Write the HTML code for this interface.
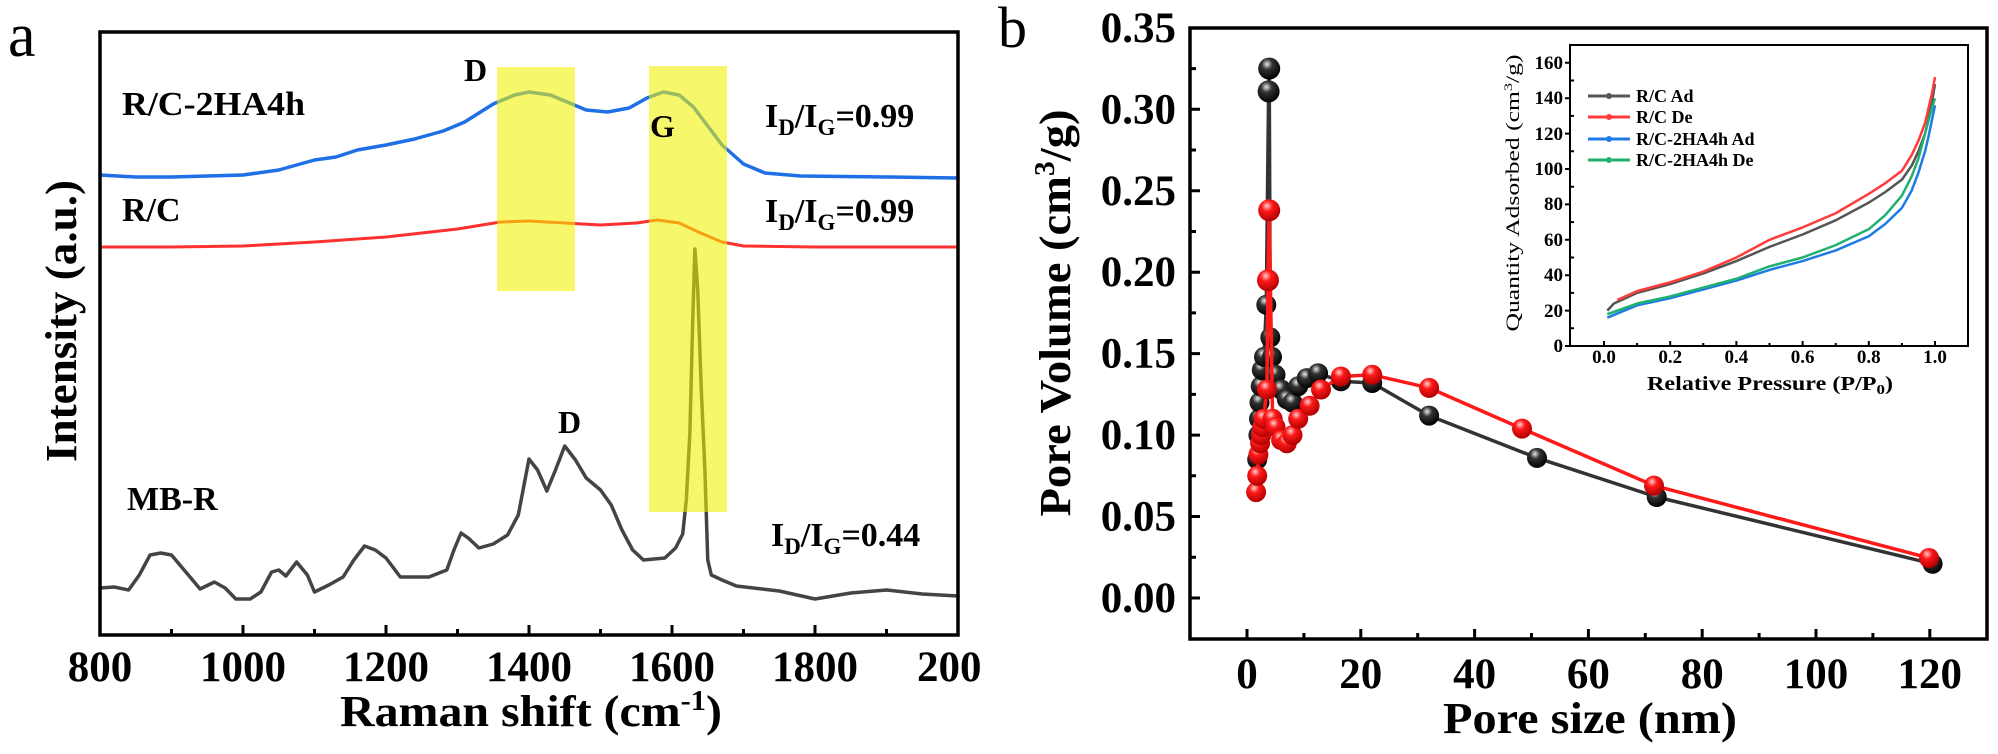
<!DOCTYPE html>
<html><head><meta charset="utf-8"><style>
html,body{margin:0;padding:0;background:#fff;}
svg{display:block;}
text{font-family:"Liberation Serif",serif;font-weight:bold;fill:#000;}
</style></head><body>
<svg width="1998" height="754" viewBox="0 0 1998 754" xmlns="http://www.w3.org/2000/svg">
<defs>
<radialGradient id="gk" cx="0.4" cy="0.3" r="0.7"><stop offset="0" stop-color="#e8e8e8"/><stop offset="0.35" stop-color="#333"/><stop offset="1" stop-color="#000"/></radialGradient>
<radialGradient id="gr" cx="0.4" cy="0.3" r="0.7"><stop offset="0" stop-color="#ffd0d0"/><stop offset="0.35" stop-color="#ff1a1a"/><stop offset="1" stop-color="#b00000"/></radialGradient>
</defs>
<rect width="1998" height="754" fill="#fff"/>

<!-- ============ PANEL A ============ -->
<text x="8" y="56" style="font-weight:normal" font-size="62">a</text>
<g transform="translate(100,0) scale(0.715,1) translate(-800,0)" fill="none" stroke-linejoin="round" stroke-linecap="round">
<polyline vector-effect="non-scaling-stroke" stroke="#1f6fe6" stroke-width="3.5" points="800,175 850,177 900,177 950,176 1000,175 1050,170 1080,164 1100,160 1130,157 1160,150 1200,145 1240,139 1280,131 1310,122 1350,104 1380,95 1400,92 1430,95 1460,104 1480,110 1510,112 1540,108 1565,98 1588,92 1610,95 1630,107 1650,126 1670,145 1700,164 1730,173 1780,176 1900,177 2000,178"/>
<polyline vector-effect="non-scaling-stroke" stroke="#ff3030" stroke-width="3" points="800,247 900,247 1000,246 1100,242 1200,237 1300,229 1360,222 1400,221 1450,223 1500,225 1550,223 1580,220 1610,223 1640,233 1670,242 1700,246 1800,247 2000,247"/>
<polyline vector-effect="non-scaling-stroke" stroke="#444" stroke-width="3.5" points="800,588 820,587 840,590 855,575 870,555 885,553 900,555 920,572 940,589 960,582 975,588 990,599 1010,599 1025,592 1040,572 1050,570 1060,576 1075,562 1090,575 1100,592 1120,585 1140,577 1155,560 1170,546 1185,550 1200,558 1220,577 1260,577 1285,570 1295,550 1305,533 1315,538 1330,548 1350,544 1370,535 1385,515 1400,459 1412,470 1425,491 1437,470 1450,446 1465,460 1480,478 1500,490 1515,505 1530,530 1545,550 1560,560 1590,558 1605,548 1615,534 1620,500 1625,433 1629,320 1632,249 1636,290 1641,390 1646,470 1650,560 1655,575 1670,580 1690,586 1750,591 1800,599 1850,593 1900,590 1950,594 2000,596"/>
</g>
<rect x="497" y="67" width="78" height="224" fill="#f2f200" opacity="0.58"/>
<rect x="649" y="66" width="78" height="446" fill="#f2f200" opacity="0.58"/>
<!-- frame a -->
<rect x="100" y="32" width="858" height="603" fill="none" stroke="#000" stroke-width="3.5"/>
<g stroke="#000" stroke-width="3">
<path d="M243,635v-10M386,635v-10M529,635v-10M672,635v-10M815,635v-10"/>
<path d="M171.5,635v-6M314.5,635v-6M457.5,635v-6M600.5,635v-6M743.5,635v-6M886.5,635v-6"/>
</g>
<g font-size="43" text-anchor="middle">
<text x="100" y="681">800</text><text x="243" y="681">1000</text><text x="386" y="681">1200</text>
<text x="529" y="681">1400</text><text x="672" y="681">1600</text><text x="815" y="681">1800</text>
</g>
<text x="917" y="681" font-size="43">200</text>
<text x="340" y="726" font-size="44" textLength="382" lengthAdjust="spacingAndGlyphs">Raman shift (cm<tspan font-size="28" dy="-16">-1</tspan><tspan dy="16">)</tspan></text>
<text transform="translate(76,321) rotate(-90)" text-anchor="middle" font-size="44" textLength="282" lengthAdjust="spacingAndGlyphs">Intensity (a.u.)</text>
<text x="122" y="115" font-size="34" textLength="183" lengthAdjust="spacingAndGlyphs">R/C-2HA4h</text>
<text x="122" y="221" font-size="34">R/C</text>
<text x="127" y="510" font-size="34">MB-R</text>
<text x="464" y="81" font-size="32">D</text>
<text x="650" y="137" font-size="32">G</text>
<text x="558" y="433" font-size="32">D</text>
<g font-size="34">
<text x="765" y="127">I<tspan font-size="23" dy="8">D</tspan><tspan dy="-8">/I</tspan><tspan font-size="23" dy="8">G</tspan><tspan dy="-8">=0.99</tspan></text>
<text x="765" y="222">I<tspan font-size="23" dy="8">D</tspan><tspan dy="-8">/I</tspan><tspan font-size="23" dy="8">G</tspan><tspan dy="-8">=0.99</tspan></text>
<text x="771" y="546">I<tspan font-size="23" dy="8">D</tspan><tspan dy="-8">/I</tspan><tspan font-size="23" dy="8">G</tspan><tspan dy="-8">=0.44</tspan></text>
</g>

<!-- ============ PANEL B ============ -->
<text x="998" y="47" style="font-weight:normal" font-size="58">b</text>
<rect x="1190" y="28" width="797" height="611" fill="none" stroke="#000" stroke-width="3.5"/>
<g stroke="#000" stroke-width="3">
<path d="M1190,598h10M1190,516.5h10M1190,435.1h10M1190,353.6h10M1190,272.2h10M1190,190.8h10M1190,109.3h10"/>
<path d="M1190,557.3h6M1190,475.8h6M1190,394.4h6M1190,312.9h6M1190,231.5h6M1190,150h6M1190,68.6h6"/>
<path d="M1247,639v-10M1360.8,639v-10M1474.6,639v-10M1588.4,639v-10M1702.2,639v-10M1816,639v-10M1929.8,639v-10"/>
<path d="M1303.9,639v-6M1417.7,639v-6M1531.5,639v-6M1645.3,639v-6M1759.1,639v-6M1872.9,639v-6"/>
</g>
<g font-size="43" text-anchor="end">
<text x="1176" y="612">0.00</text><text x="1176" y="530.5">0.05</text><text x="1176" y="449.1">0.10</text>
<text x="1176" y="367.6">0.15</text><text x="1176" y="286.2">0.20</text><text x="1176" y="204.8">0.25</text>
<text x="1176" y="123.3">0.30</text><text x="1176" y="42">0.35</text>
</g>
<g font-size="43" text-anchor="middle">
<text x="1247" y="688">0</text><text x="1360.8" y="688">20</text><text x="1474.6" y="688">40</text>
<text x="1588.4" y="688">60</text><text x="1702.2" y="688">80</text><text x="1816" y="688">100</text><text x="1929.8" y="688">120</text>
</g>
<text x="1443" y="733" font-size="44" textLength="294" lengthAdjust="spacingAndGlyphs">Pore size (nm)</text>
<text transform="translate(1070,313) rotate(-90)" text-anchor="middle" font-size="44" textLength="407" lengthAdjust="spacingAndGlyphs">Pore Volume (cm<tspan font-size="28" dy="-16">3</tspan><tspan dy="16">/g)</tspan></text>

<!-- black series -->
<polyline fill="none" stroke="#333" stroke-width="3.5" stroke-linejoin="round" points="1257.2,459.5 1258.4,435.1 1259,418.8 1259.5,402.5 1260.7,386.2 1261.8,370 1264,356.9 1266.3,304.8 1268.6,91.4 1269.2,68.6 1270.3,337.4 1272,356.9 1275.5,374.8 1281.1,389.5 1286.8,399.3 1292.5,402.5 1298.2,386.2 1306.7,378.1 1318.1,373.2 1340.9,381.3 1372.2,383 1429.1,415.6 1537,457.9 1656.7,497 1932.6,563.8"/>
<g fill="url(#gk)">
<circle cx="1257.2" cy="459.5" r="10"/><circle cx="1258.4" cy="435.1" r="10"/><circle cx="1259" cy="418.8" r="10"/><circle cx="1259.5" cy="402.5" r="10"/><circle cx="1260.7" cy="386.2" r="10"/><circle cx="1261.8" cy="370" r="10"/><circle cx="1264" cy="356.9" r="10"/><circle cx="1266.3" cy="304.8" r="10"/><circle cx="1268.6" cy="91.4" r="11"/><circle cx="1269.2" cy="68.6" r="11"/><circle cx="1270.3" cy="337.4" r="10"/><circle cx="1272" cy="356.9" r="10"/><circle cx="1275.5" cy="374.8" r="10"/><circle cx="1281.1" cy="389.5" r="10"/><circle cx="1286.8" cy="399.3" r="10"/><circle cx="1292.5" cy="402.5" r="10"/><circle cx="1298.2" cy="386.2" r="10"/><circle cx="1306.7" cy="378.1" r="10"/><circle cx="1318.1" cy="373.2" r="10"/><circle cx="1340.9" cy="381.3" r="10"/><circle cx="1372.2" cy="383" r="10"/><circle cx="1429.1" cy="415.6" r="10"/><circle cx="1537" cy="457.9" r="10"/><circle cx="1656.7" cy="497" r="10"/><circle cx="1932.6" cy="563.8" r="10"/>
</g>
<!-- red series -->
<polyline fill="none" stroke="#ff1a1a" stroke-width="3.5" stroke-linejoin="round" points="1256.1,492.1 1257.2,475.8 1258.4,454.6 1260.1,443.2 1261.2,435.1 1262.4,427 1263.5,418.8 1266.9,389.5 1268,280.3 1269.2,210.3 1272.6,418.8 1275.5,427 1281.1,440 1286.8,443.2 1292.5,435.1 1298.2,418.8 1309.6,405.8 1321,389.5 1340.9,376.5 1372.2,374.8 1429.1,387.9 1522,428.6 1654,485.6 1929,558"/>
<g fill="url(#gr)">
<circle cx="1256.1" cy="492.1" r="10"/><circle cx="1257.2" cy="475.8" r="10"/><circle cx="1258.4" cy="454.6" r="10"/><circle cx="1260.1" cy="443.2" r="10"/><circle cx="1261.2" cy="435.1" r="10"/><circle cx="1262.4" cy="427" r="10"/><circle cx="1263.5" cy="418.8" r="10"/><circle cx="1266.9" cy="389.5" r="10"/><circle cx="1268" cy="280.3" r="11"/><circle cx="1269.2" cy="210.3" r="11"/><circle cx="1272.6" cy="418.8" r="10"/><circle cx="1275.5" cy="427" r="10"/><circle cx="1281.1" cy="440" r="10"/><circle cx="1286.8" cy="443.2" r="10"/><circle cx="1292.5" cy="435.1" r="10"/><circle cx="1298.2" cy="418.8" r="10"/><circle cx="1309.6" cy="405.8" r="10"/><circle cx="1321" cy="389.5" r="10"/><circle cx="1340.9" cy="376.5" r="10"/><circle cx="1372.2" cy="374.8" r="10"/><circle cx="1429.1" cy="387.9" r="10"/><circle cx="1522" cy="428.6" r="10"/><circle cx="1654" cy="485.6" r="10"/><circle cx="1929" cy="558" r="10"/>
</g>

<!-- ============ INSET ============ -->
<rect x="1570" y="45" width="398" height="301" fill="#fff" stroke="#000" stroke-width="2"/>
<g stroke="#000" stroke-width="2">
<path d="M1570,346h-5M1570,310.6h-5M1570,275.2h-5M1570,239.8h-5M1570,204.4h-5M1570,169h-5M1570,133.6h-5M1570,98.2h-5M1570,62.8h-5"/>
<path d="M1570,328.3h4M1570,292.9h4M1570,257.5h4M1570,222.1h4M1570,186.7h4M1570,151.3h4M1570,115.9h4M1570,80.5h4"/>
<path d="M1604,346v-5M1670.2,346v-5M1736.4,346v-5M1802.6,346v-5M1868.8,346v-5M1935,346v-5"/>
<path d="M1637.1,346v-3M1703.3,346v-3M1769.5,346v-3M1835.7,346v-3M1901.9,346v-3"/>
</g>
<g font-size="19" text-anchor="end">
<text x="1563" y="352">0</text><text x="1563" y="317">20</text><text x="1563" y="281">40</text><text x="1563" y="246">60</text><text x="1563" y="210">80</text><text x="1563" y="175">100</text><text x="1563" y="140">120</text><text x="1563" y="104">140</text><text x="1563" y="69">160</text>
</g>
<g font-size="19" text-anchor="middle">
<text x="1604" y="363">0.0</text><text x="1670.2" y="363">0.2</text><text x="1736.4" y="363">0.4</text><text x="1802.6" y="363">0.6</text><text x="1868.8" y="363">0.8</text><text x="1935" y="363">1.0</text>
</g>
<text x="1647" y="390" font-size="20" textLength="246" lengthAdjust="spacingAndGlyphs">Relative Pressure (P/P<tspan font-size="14" dy="4">0</tspan><tspan dy="-4">)</tspan></text>
<text transform="translate(1519,193) rotate(-90)" text-anchor="middle" font-size="19" textLength="277" lengthAdjust="spacingAndGlyphs" style="font-weight:normal">Quantity Adsorbed (cm<tspan font-size="12" dy="-7">3</tspan><tspan dy="7">/g)</tspan></text>

<g transform="translate(1604,346) scale(331,-1.77)" fill="none" stroke-linejoin="round">
<polyline vector-effect="non-scaling-stroke" stroke="#555" stroke-width="2.5" points="0.01,20 0.03,24 0.1,30 0.2,35 0.3,41 0.4,48 0.5,56 0.6,63 0.7,71 0.8,81 0.85,87 0.9,94 0.93,102 0.95,110 0.97,120 0.98,128 0.99,137 1.0,148"/>
<polyline vector-effect="non-scaling-stroke" stroke="#ff3b3b" stroke-width="2.5" points="0.04,26 0.1,31 0.2,36 0.3,42 0.4,50 0.5,60 0.6,67 0.7,75 0.8,86 0.85,92 0.9,99 0.93,108 0.95,116 0.97,126 0.98,134 0.99,142 1.0,152"/>
<polyline vector-effect="non-scaling-stroke" stroke="#1e7be6" stroke-width="2.5" points="0.01,16 0.1,23 0.2,27 0.3,32 0.4,37 0.5,43 0.6,48 0.7,54 0.8,62 0.85,69 0.9,78 0.93,88 0.95,98 0.97,110 0.98,118 0.99,127 1.0,136"/>
<polyline vector-effect="non-scaling-stroke" stroke="#20b070" stroke-width="2.5" points="0.01,18 0.1,24 0.2,28 0.3,33 0.4,38 0.5,45 0.6,50 0.7,57 0.8,66 0.85,74 0.9,85 0.93,96 0.95,106 0.97,120 0.98,127 0.99,134 1.0,140"/>
</g>
<g stroke-width="3">
<line x1="1588" y1="96" x2="1630" y2="96" stroke="#555"/><circle cx="1609" cy="96" r="3" fill="#555"/>
<line x1="1588" y1="117" x2="1630" y2="117" stroke="#ff3b3b"/><circle cx="1609" cy="117" r="3" fill="#ff3b3b"/>
<line x1="1588" y1="139" x2="1630" y2="139" stroke="#1e7be6"/><circle cx="1609" cy="139" r="3" fill="#1e7be6"/>
<line x1="1588" y1="160" x2="1630" y2="160" stroke="#20b070"/><circle cx="1609" cy="160" r="3" fill="#20b070"/>
</g>
<g font-size="18">
<text x="1636" y="102">R/C Ad</text>
<text x="1636" y="123">R/C De</text>
<text x="1636" y="145">R/C-2HA4h Ad</text>
<text x="1636" y="166">R/C-2HA4h De</text>
</g>
</svg>
</body></html>
